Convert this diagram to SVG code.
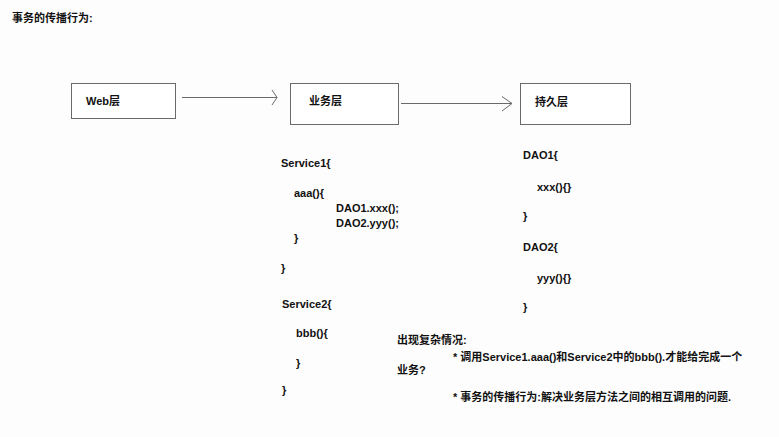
<svg xmlns="http://www.w3.org/2000/svg" width="779" height="437" viewBox="0 0 779 437">
<style>
text{font-family:"Liberation Sans","Noto Sans CJK SC",sans-serif;font-size:11px;font-weight:bold;fill:#111}
.box{fill:#fff;stroke:#6a6a6a;stroke-width:1}
.con{fill:none;stroke:#6a6a6a;stroke-width:1}
</style>
<rect width="779" height="437" fill="#fdfdfd"/>
<text x="12" y="22">事务的传播行为:</text>
<g id="web"><rect class="box" x="71.5" y="83.5" width="104" height="35"/><text x="86" y="105">Web层</text></g>
<g id="service"><rect class="box" x="290.5" y="83.5" width="108" height="41"/><text x="309" y="105">业务层</text></g>
<g id="dao"><rect class="box" x="520.5" y="83.5" width="110" height="41"/><text x="535" y="106">持久层</text></g>
<g id="connectors">
<path class="con" d="M182 97.5H277M272 90L277 97.5L272 105"/>
<path class="con" d="M401 103.5H512M502 96.5L512 103.5L502 111"/>
</g>
<g id="service-code">
<text x="281" y="167">Service1{</text>
<text x="294" y="197">aaa(){</text>
<text x="336" y="212">DAO1.xxx();</text>
<text x="336" y="227">DAO2.yyy();</text>
<text x="294" y="242">}</text>
<text x="281" y="272">}</text>
<text x="282" y="308">Service2{</text>
<text x="296" y="337">bbb(){</text>
<text x="296" y="367">}</text>
<text x="282" y="394">}</text>
</g>
<g id="dao-code">
<text x="523" y="159">DAO1{</text>
<text x="537" y="191">xxx(){}</text>
<text x="523" y="220">}</text>
<text x="523" y="251">DAO2{</text>
<text x="537" y="282">yyy(){}</text>
<text x="523" y="311">}</text>
</g>
<g id="notes">
<text x="397" y="344">出现复杂情况:</text>
<text x="453" y="361">* 调用Service1.aaa()和Service2中的bbb().才能给完成一个</text>
<text x="397" y="374">业务?</text>
<text x="453" y="401">* 事务的传播行为:解决业务层方法之间的相互调用的问题.</text>
</g>
</svg>
